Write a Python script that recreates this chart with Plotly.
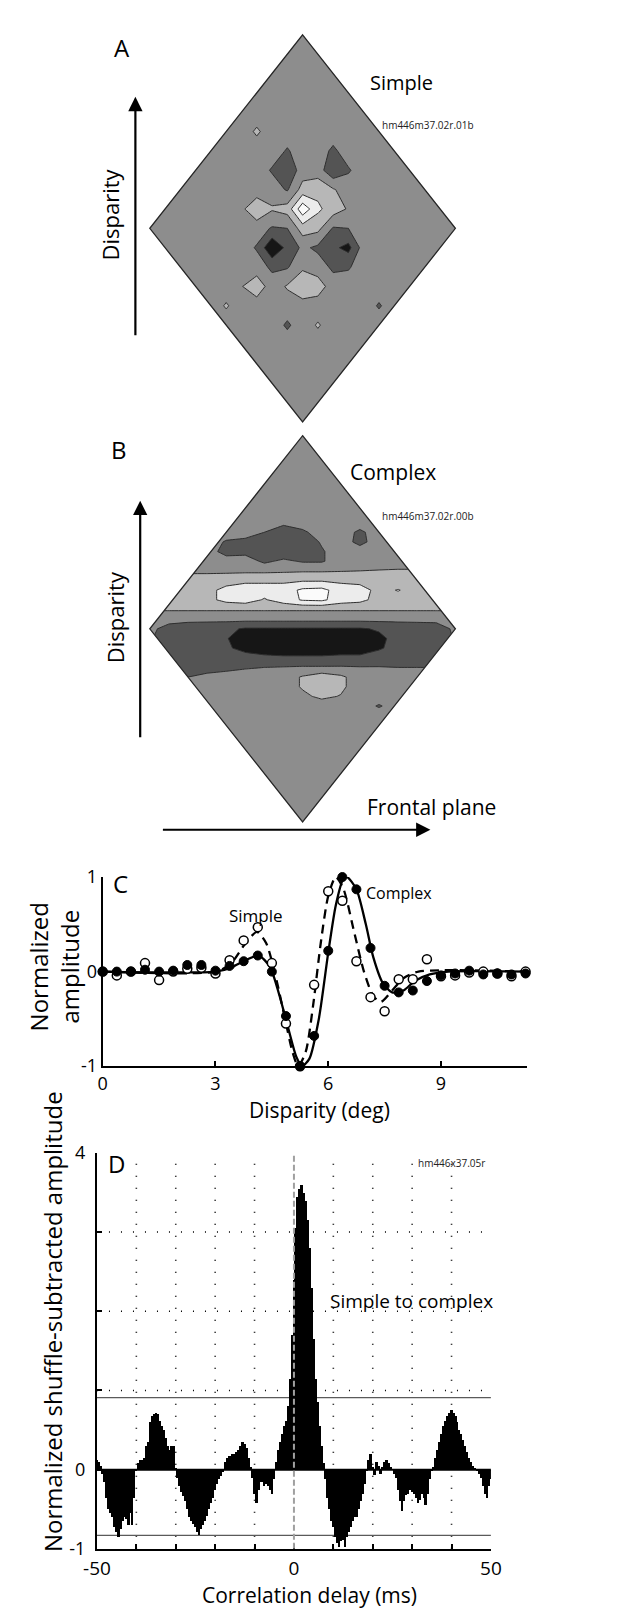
import numpy as np
import plotly.graph_objects as go

W, H = 640, 1609
FONT = "Open Sans"

def fx(px):
    return px / W

def fy(py):
    return 1 - py / H

# ---------------- Panel A : simple cell map (frontal position, disparity) ----------------
a_frontal = [-0.6, -0.5, -0.4, -0.3, -0.2, -0.1, 0.0, 0.1, 0.2, 0.3, 0.4, 0.5, 0.6]
a_disparity = [0.7, 0.6, 0.5, 0.4, 0.3, 0.2, 0.1, 0.0, -0.1, -0.2, -0.3, -0.4, -0.5, -0.6]
a_response = [
    [0, 0, 0, 0, 0, 0, 0, 0, 0, 0, 0, 0, 0],
    [0, 0, 0, 0, 0, 0, 0, 0, 0, 0, 0, 0, 0],
    [0, 0, 0, 0.65, 0, 0, 0, 0, 0, 0, 0, 0, 0],
    [0, 0, 0, 0, 0, -0.6, 0, 0, -0.7, 0, 0, 0, 0],
    [0, 0, 0, 0, -0.6, -1.3, 0, 0, -1.3, -0.6, 0, 0, 0],
    [0, 0, 0, 0, 0, -0.6, 0.9, 1.2, 0.6, 0, 0, 0, 0],
    [0, 0, 0.3, 1.2, 0.6, 0.9, 3.2, 1.7, 1.0, 0.4, 0, 0, 0],
    [0, 0, 0, 0, -0.6, -0.5, 1.0, 0.8, -0.6, -0.5, 0, 0, 0],
    [0, 0, 0, -0.6, -2.4, -1.2, -0.3, -0.7, -1.3, -1.8, 0, 0, 0],
    [0, 0, 0, 0, -0.7, -0.6, 0.3, 0, -0.7, -0.6, 0, 0, 0],
    [0, 0, 0.45, 1.1, 0, 0.6, 1.4, 1.0, 0, 0, 0, 0, 0],
    [0, 0.6, 0, 0, 0, 0, 0, 0, 0, 0, 0, -0.6, 0],
    [0, 0, 0, 0, 0, -0.65, 0, 0.6, 0, 0, 0, 0, 0],
    [0, 0, 0, 0, 0, 0, 0, 0, 0, 0, 0, 0, 0],
]

# ---------------- Panel B : complex cell map ----------------
b_frontal = [-1.0, -0.875, -0.75, -0.625, -0.5, -0.375, -0.25, -0.125, 0.0,
             0.125, 0.25, 0.375, 0.5, 0.625, 0.75, 0.875, 1.0]
b_disparity = [0.6, 0.55, 0.5, 0.45, 0.4, 0.35, 0.3, 0.25, 0.2, 0.15, 0.1, 0.05,
               0.0, -0.05, -0.1, -0.15, -0.2, -0.25, -0.3, -0.35, -0.4, -0.45]
b_response = [
    [0, 0, 0, 0, 0, 0, 0, 0, 0, 0, 0, 0, 0, 0, 0, 0, 0],
    [0, 0, 0, 0, 0, 0, 0, -0.3, 0, 0, 0, 0, 0, 0, 0, 0, 0],
    [0, 0, 0, 0, 0, 0, -0.5, -1.0, -0.7, 0, 0, -0.7, 0, 0, 0, 0, 0],
    [0, 0, 0, 0, -0.6, -0.8, -1.2, -1.3, -1.1, -0.4, 0, -0.8, 0, 0, 0, 0, 0],
    [0, 0, 0, 0, -0.9, -0.8, -1.2, -1.2, -1.0, -0.6, 0, 0, 0, 0, 0, 0, 0],
    [0, 0, 0, 0, 0, 0, -0.7, -0.3, -0.6, -0.6, 0, 0, 0, 0, 0, 0, 0],
    [0.3, 0.3, 0.3, 0.3, 0.3, 0.3, 0.3, 0.35, 0.4, 0.4, 0.45, 0.5, 0.55, 0.6, 0.6, 0.6, 0.6],
    [1.0, 1.0, 1.0, 1.0, 1.1, 1.3, 1.3, 1.3, 1.4, 1.4, 1.3, 1.2, 1.1, 1.0, 1.0, 1.0, 1.0],
    [1.1, 1.1, 1.1, 1.2, 1.8, 2.0, 2.0, 2.0, 2.7, 2.8, 2.0, 1.9, 1.2, 1.55, 1.1, 1.1, 1.1],
    [1.1, 1.1, 1.1, 1.2, 1.8, 2.0, 1.4, 2.0, 2.6, 2.7, 2.0, 1.8, 1.1, 1.1, 1.1, 1.1, 1.1],
    [0.6, 0.6, 0.6, 0.6, 0.6, 0.6, 0.6, 0.6, 0.6, 0.6, 0.6, 0.6, 0.6, 0.6, 0.6, 0.6, 0.6],
    [-0.2, -0.2, -0.2, -0.2, -0.2, -0.2, -0.2, -0.2, -0.2, -0.2, -0.2, -0.2, -0.2, -0.2, -0.2, -0.2, -0.2],
    [-0.3, -0.8, -1.1, -1.2, -1.3, -1.6, -1.6, -1.6, -1.6, -1.6, -1.6, -1.6, -1.4, -1.2, -1.1, -1.0, -0.3],
    [-0.4, -1.0, -1.2, -1.2, -1.4, -2.3, -2.4, -2.4, -2.4, -2.4, -2.4, -2.3, -1.7, -1.2, -1.2, -1.1, -0.4],
    [-0.5, -1.0, -1.2, -1.2, -1.3, -1.9, -2.2, -2.3, -2.3, -2.3, -2.2, -2.2, -1.6, -1.2, -1.1, -1.0, -0.5],
    [-0.7, -1.0, -1.1, -1.1, -1.0, -1.0, -1.2, -1.3, -1.3, -1.3, -1.2, -1.2, -1.1, -1.0, -0.9, -0.8, -0.5],
    [-0.8, -0.9, -0.9, -0.8, -0.7, -0.6, -0.5, -0.45, -0.4, -0.4, -0.4, -0.45, -0.45, -0.5, -0.5, -0.5, -0.4],
    [-0.6, -0.6, -0.5, -0.3, -0.2, 0, 0, 0, 0.6, 1.1, 0.7, 0, 0, 0, 0, 0, 0],
    [0, 0, 0, 0, 0, 0, 0, 0, 0.6, 1.2, 0.7, 0, 0, 0, 0, 0, 0],
    [0, 0, 0, 0, 0, 0, 0, 0, 0.3, 0.7, 0.45, 0, 0, 0, 0, 0, 0],
    [0, 0, 0, 0, 0, 0, 0, 0, 0, 0, 0, 0, -0.6, 0, 0, 0, 0],
    [0, 0, 0, 0, 0, 0, 0, 0, 0, 0, 0, 0, 0, 0, 0, 0, 0],
]

# ---------------- Panel C : disparity tuning ----------------
disparity_deg = [round(0.375 * i, 3) for i in range(31)]
simple_pts = [0.0, -0.04, 0.0, 0.09, -0.09, 0.0, 0.03, 0.04, -0.02, 0.12, 0.33,
              0.47, 0.09, -0.55, -1.0, -0.14, 0.85, 0.75, 0.11, -0.27, -0.42,
              -0.08, -0.08, 0.13, -0.05, -0.04, -0.01, 0.0, -0.02, -0.05, 0.0]
complex_pts = [0.0, 0.0, 0.0, 0.02, 0.0, 0.01, 0.07, 0.07, 0.01, 0.06, 0.11,
               0.17, 0.0, -0.47, -1.0, -0.68, 0.22, 1.0, 0.87, 0.25, -0.15,
               -0.22, -0.2, -0.1, -0.04, -0.02, 0.01, -0.03, -0.02, -0.03, -0.02]
simple_fit_x = [0, 3.0, 3.4, 3.8, 4.1, 4.35, 4.6, 4.85, 5.05, 5.2, 5.4, 5.6, 5.8,
                6.0, 6.2, 6.4, 6.7, 6.95, 7.2, 7.4, 7.7, 8.0, 8.4, 11.25]
simple_fit_y = [0, 0.0, 0.08, 0.3, 0.42, 0.3, -0.05, -0.5, -0.85, -1.0, -0.85, -0.35, 0.3,
                0.8, 1.0, 0.88, 0.4, 0.0, -0.26, -0.32, -0.2, -0.07, 0.0, 0.0]
complex_fit_x = [0, 3.0, 3.4, 3.8, 4.15, 4.45, 4.7, 4.95, 5.15, 5.3, 5.5, 5.75, 6.0,
                 6.2, 6.4, 6.5, 6.75, 7.0, 7.2, 7.45, 7.7, 8.0, 8.3, 8.7, 9.2, 11.25]
complex_fit_y = [0, 0.0, 0.04, 0.12, 0.17, 0.05, -0.25, -0.62, -0.9, -1.0, -0.92, -0.5, 0.2,
                 0.7, 0.98, 1.0, 0.87, 0.5, 0.15, -0.12, -0.22, -0.2, -0.1, -0.03, 0.0, 0.0]

# ---------------- Panel D : shuffle-subtracted cross-correlogram ----------------
delay_ms = [round(-50 + 0.5 * i, 1) for i in range(201)]
ccg_amp = [
    0.12, 0.10, 0.05, -0.05, -0.15, -0.35, -0.5, -0.55, -0.6, -0.72,
    -0.78, -0.85, -0.75, -0.65, -0.6, -0.62, -0.7, -0.55, -0.7, -0.35,
    -0.02, 0.08, 0.12, 0.12, 0.15, 0.3, 0.35, 0.6, 0.68, 0.7,
    0.72, 0.7, 0.62, 0.55, 0.5, 0.4, 0.3, 0.25, 0.3, 0.3,
    0.02, -0.1, -0.2, -0.28, -0.33, -0.4, -0.5, -0.6, -0.65, -0.68,
    -0.72, -0.78, -0.82, -0.75, -0.7, -0.65, -0.58, -0.5, -0.42, -0.35,
    -0.25, -0.18, -0.12, -0.08, -0.03, 0.1, 0.15, 0.17, 0.17, 0.2,
    0.2, 0.22, 0.25, 0.3, 0.35, 0.32, 0.28, 0.15, 0.03, -0.1,
    -0.3, -0.42, -0.25, -0.15, -0.15, -0.2, -0.18, -0.2, -0.25, -0.3,
    -0.12, 0.1, 0.25, 0.35, 0.45, 0.55, 0.62, 0.8, 1.15, 1.7,
    2.4, 3.05, 3.45, 3.55, 3.6, 3.5, 3.4, 3.15, 2.8, 2.3,
    1.65, 1.15, 0.85, 0.55, 0.3, 0.08, -0.12, -0.35, -0.5, -0.65,
    -0.72, -0.85, -0.92, -0.97, -0.9, -0.88, -0.97, -0.85, -0.78, -0.72,
    -0.65, -0.6, -0.6, -0.5, -0.4, -0.3, -0.18, -0.02, 0.12, 0.2,
    0.03, -0.06, 0.1, 0.05, -0.05, 0.04, 0.1, 0.12, 0.08, 0.03,
    0.0, -0.05, -0.1, -0.25, -0.4, -0.52, -0.4, -0.32, -0.3, -0.25,
    -0.28, -0.3, -0.35, -0.42, -0.38, -0.3, -0.35, -0.45, -0.3, -0.12,
    -0.02, 0.03, 0.15, 0.25, 0.35, 0.45, 0.55, 0.62, 0.68, 0.72,
    0.75, 0.72, 0.68, 0.6, 0.5, 0.45, 0.38, 0.3, 0.22, 0.15,
    0.1, 0.05, 0.02, -0.02, -0.05, -0.1, -0.2, -0.3, -0.35, -0.2,
    -0.12,
]
sig_upper = 0.91
sig_lower = -0.83
grid_delays = [-40, -30, -20, -10, 10, 20, 30, 40]
grid_levels = [1, 2, 3]

# ---------------- helpers ----------------
def pad_grid(xs, ys, zs, step_x, step_y, lim):
    """Place the read-off block on a baseline (zero) grid spanning the whole diamond."""
    nx = int(round(2 * lim / step_x)) + 1
    ny = int(round(2 * lim / step_y)) + 1
    full_x = np.round(np.linspace(-lim, lim, nx), 4)
    full_y = np.round(np.linspace(-lim, lim, ny), 4)
    Z = np.zeros((ny, nx))
    for i, yv in enumerate(ys):
        iy = int(np.argmin(np.abs(full_y - yv)))
        for j, xv in enumerate(xs):
            jx = int(np.argmin(np.abs(full_x - xv)))
            Z[iy, jx] = zs[i][j]
    return full_x, full_y, Z


CS = [[0.0, '#161616'], [0.1, '#161616'], [0.1, '#545454'], [0.3, '#545454'],
      [0.3, '#8d8d8d'], [0.5, '#8d8d8d'], [0.5, '#b7b7b7'], [0.7, '#b7b7b7'],
      [0.7, '#ececec'], [0.9, '#ececec'], [0.9, '#fbfbfb'], [1.0, '#fbfbfb']]

fig = go.Figure()


def add_map(xs, ys, zs, sx, sy, xa, ya):
    gx, gy, Z = pad_grid(xs, ys, zs, sx, sy, 1.0)
    fig.add_trace(go.Contour(
        x=gx, y=gy, z=Z, xaxis=xa, yaxis=ya,
        autocontour=False,
        contours=dict(start=-1.5, end=2.5, size=1, coloring='fill', showlines=True),
        line=dict(color='#2e2e2e', width=1, smoothing=0),
        colorscale=CS, showscale=False, hoverinfo='skip'))


add_map(a_frontal, a_disparity, a_response, 0.1, 0.1, 'x', 'y')
add_map(b_frontal, b_disparity, b_response, 0.125, 0.05, 'x2', 'y2')

# Panel C
fig.add_trace(go.Scatter(x=simple_fit_x, y=simple_fit_y, mode='lines', xaxis='x3', yaxis='y3',
                         line=dict(color='black', width=2.3, dash='9px,6px', shape='spline', smoothing=0.7),
                         hoverinfo='skip', cliponaxis=False))
fig.add_trace(go.Scatter(x=complex_fit_x, y=complex_fit_y, mode='lines', xaxis='x3', yaxis='y3',
                         line=dict(color='black', width=2.3, shape='spline', smoothing=0.7),
                         hoverinfo='skip', cliponaxis=False))
fig.add_trace(go.Scatter(x=disparity_deg, y=simple_pts, mode='markers', xaxis='x3', yaxis='y3',
                         marker=dict(symbol='circle', size=9, color='white',
                                     line=dict(color='black', width=1.5)),
                         hoverinfo='skip', cliponaxis=False))
fig.add_trace(go.Scatter(x=disparity_deg, y=complex_pts, mode='markers', xaxis='x3', yaxis='y3',
                         marker=dict(symbol='circle', size=9, color='black',
                                     line=dict(color='black', width=1)),
                         hoverinfo='skip', cliponaxis=False))

# Panel D
fig.add_trace(go.Bar(x=delay_ms, y=ccg_amp, width=0.5, xaxis='x4', yaxis='y4',
                     marker=dict(color='black', line=dict(width=0)), hoverinfo='skip'))

R = 1.05  # view range of the map axes (slightly beyond the diamond)
shapes = []
diamond = "M 0,1 L 1,0 L 0,-1 L -1,0 Z"
mask = (f"M {-R},{-R} L {R},{-R} L {R},{R} L {-R},{R} Z "
        "M 0,1 L 1,0 L 0,-1 L -1,0 Z")
for xr, yr in (('x', 'y'), ('x2', 'y2')):
    shapes.append(dict(type='path', path=mask, xref=xr, yref=yr, fillcolor='white',
                       fillrule='evenodd', line=dict(width=0), layer='above'))
    shapes.append(dict(type='path', path=diamond, xref=xr, yref=yr, fillcolor='rgba(0,0,0,0)',
                       line=dict(color='#262626', width=1.3), layer='above'))

for d in grid_delays:
    shapes.append(dict(type='line', xref='x4', yref='y4', x0=d, x1=d, y0=-1, y1=4,
                       line=dict(color='black', width=1.6, dash='1px,11px'), layer='below'))
for lv in grid_levels:
    shapes.append(dict(type='line', xref='x4', yref='y4', x0=-50, x1=50, y0=lv, y1=lv,
                       line=dict(color='black', width=1.6, dash='1px,11px'), layer='below'))
for lv in (sig_upper, sig_lower):
    shapes.append(dict(type='line', xref='x4', yref='y4', x0=-50, x1=50, y0=lv, y1=lv,
                       line=dict(color='#5a5a5a', width=1.2), layer='below'))
shapes.append(dict(type='line', xref='x4', yref='y4', x0=-50, x1=50, y0=0, y1=0,
                   line=dict(color='black', width=2), layer='above'))
shapes.append(dict(type='line', xref='x4', yref='y4', x0=0, x1=0, y0=-1, y1=4,
                   line=dict(color='#a0a0a0', width=2, dash='6px,3px'), layer='above'))


def txt(s, px, py, size, angle=0, color='black', **kw):
    return dict(text=s, x=fx(px), y=fy(py), xref='paper', yref='paper', showarrow=False,
                font=dict(size=size, family=FONT, color=color), textangle=angle,
                xanchor='center', yanchor='middle', **kw)


def arrow(hx, hy, tx, ty):
    return dict(text='', x=fx(hx), y=fy(hy), xref='paper', yref='paper',
                ax=tx - hx, ay=ty - hy, axref='pixel', ayref='pixel', showarrow=True,
                arrowhead=2, arrowsize=1.3, arrowwidth=2.2, arrowcolor='black', standoff=0)


annotations = [
    txt('A', 104, 27, 24),
    txt('Simple', 395, 62, 20),
    txt('hm446m37.02r.01b', 423, 106, 10, color='#222'),
    txt('Disparity', 92, 196, 22, angle=-90),
    arrow(118, 77, 118, 317),
    txt('B', 101, 435, 24),
    txt('Complex', 386, 458, 21),
    txt('hm446m37.02r.00b', 422, 502, 10, color='#222'),
    txt('Disparity', 97, 605, 22, angle=-90),
    arrow(123, 487, 123, 725),
    txt('Frontal plane', 426, 798, 21),
    arrow(425, 821, 156, 821),
    txt('C', 103, 876, 24),
    txt('Simple', 243, 908, 17),
    txt('Complex', 392, 885, 16),
    txt('Normalized<br>amplitude', 33, 960, 24, angle=-90),
    txt('Disparity (deg)', 310, 1105, 21),
    txt('D', 98, 1160, 24),
    txt('hm446x37.05r', 447, 1159, 10, color='#222'),
    txt('Simple to complex', 405, 1299, 19),
    txt('Normalized shuffle-subtracted amplitude', 32, 1320, 24, angle=-90),
    txt('Correlation delay (ms)', 299, 1598, 21),
]

axline = dict(showline=True, linecolor='black', linewidth=2, showgrid=False, zeroline=False,
              ticks='inside', ticklen=5, tickwidth=1.5, tickcolor='black',
              tickfont=dict(size=18, family=FONT, color='black'), fixedrange=True)


def map_axes(cx, cy, hx, hy):
    xa = dict(domain=[fx(cx - hx * R), fx(cx + hx * R)], range=[-R, R],
              visible=False, showgrid=False, zeroline=False, fixedrange=True)
    ya = dict(domain=[fy(cy + hy * R), fy(cy - hy * R)], range=[-R, R],
              visible=False, showgrid=False, zeroline=False, fixedrange=True)
    return xa, ya


xa1, ya1 = map_axes(292, 210.5, 159, 196.5)
xa2, ya2 = map_axes(292, 617, 159, 196)

fig.update_layout(
    width=W, height=H, autosize=False,
    margin=dict(l=0, r=0, t=0, b=0),
    paper_bgcolor='white', plot_bgcolor='white',
    showlegend=False, bargap=0,
    font=dict(family=FONT, color='black'),
    xaxis=dict(anchor='y', **xa1),
    yaxis=dict(anchor='x', **ya1),
    xaxis2=dict(anchor='y2', **xa2),
    yaxis2=dict(anchor='x2', **ya2),
    xaxis3=dict(domain=[fx(84), fx(526)], anchor='y3', range=[0, 11.3],
                tickvals=[0, 3, 6, 9], ticktext=['0', '3', '6', '9'], **axline),
    yaxis3=dict(domain=[fy(1061), fy(869)], anchor='x3', range=[-1, 1],
                tickvals=[-1, 0, 1], ticktext=['-1', '0', '1'], **axline),
    xaxis4=dict(domain=[fx(78), fx(488)], anchor='y4', range=[-50, 50],
                tickvals=list(range(-50, 51, 10)), ticklabelstandoff=1,
                ticktext=['-50', '', '', '', '', '0', '', '', '', '', '50'], **axline),
    yaxis4=dict(domain=[fy(1551), fy(1149)], anchor='x4', range=[-1, 4], ticklabelstandoff=6,
                tickvals=[-1, 0, 1, 2, 3, 4], ticktext=['-1', '0', '', '', '', '4'], **axline),
    shapes=shapes,
    annotations=annotations,
)
fig.update_xaxes(selector=dict(anchor='y4'), tickfont=dict(size=19, family=FONT, color='black'))

fig.write_html("out.html")
